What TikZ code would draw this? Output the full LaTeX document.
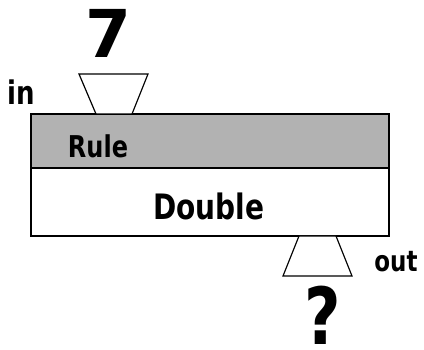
\documentclass[tikz,border=0pt]{standalone}
\usepackage{fontspec}
\setmainfont{DejaVu Sans}
\usetikzlibrary{calc}

\newcommand{\tall}[1]{\scalebox{1}[1.25]{#1}}
\tikzset{
  lbl/.style={anchor=base,font=\bfseries\fontsize{#1}{30}\selectfont},
  lbl/.default=25,
  big/.style={anchor=base,inner sep=0pt,font=\bfseries\fontsize{#1}{80}\selectfont},
  big/.default=68,
  box/.style={draw=black,line width=2pt},
  funnel/.style={draw=black,line width=1.2pt,fill=white}
}

\begin{document}
\begin{tikzpicture}[x=1pt,y=1pt]
    \useasboundingbox (0,0) rectangle (424,350);
    \begin{scope}[shift={(0,0)}]
      \coordinate (RA) at (31,236);
      \coordinate (RB) at (389,182);
      \coordinate (DA) at (31,182);
      \coordinate (DB) at (389,114);
      \filldraw[box,fill=black!30](RA) rectangle (RB);
      \draw[box](DA) rectangle (DB);
      % funnels
      \coordinate (I1) at (96,236);
      \coordinate (I2) at (132,236);
      \coordinate (I3) at (148,276);
      \coordinate (I4) at (79,276);
      \draw[funnel](I1)--(I2)--(I3)--(I4)--cycle;
      \coordinate (O1) at (299,114);
      \coordinate (O2) at (336,114);
      \coordinate (O3) at (352,74);
      \coordinate (O4) at (283,74);
      \draw[funnel](O1)--(O2)--(O3)--(O4)--cycle;
      \node[lbl=24] (rule) at (98,192) {\tall{Rule}};
      \node[lbl=28] (double) at (209,130) {\tall{Double}};
      \node[lbl=26] (in) at (21,245) {\tall{in}};
      \node[lbl=23] (out) at (396,78) {\tall{out}};
      \node[big=66] (seven) at (108,292) {7};
      \node[big=63] (what) at (323,5) {\tall{?}};
    \end{scope}
  \end{tikzpicture}
\end{document}
